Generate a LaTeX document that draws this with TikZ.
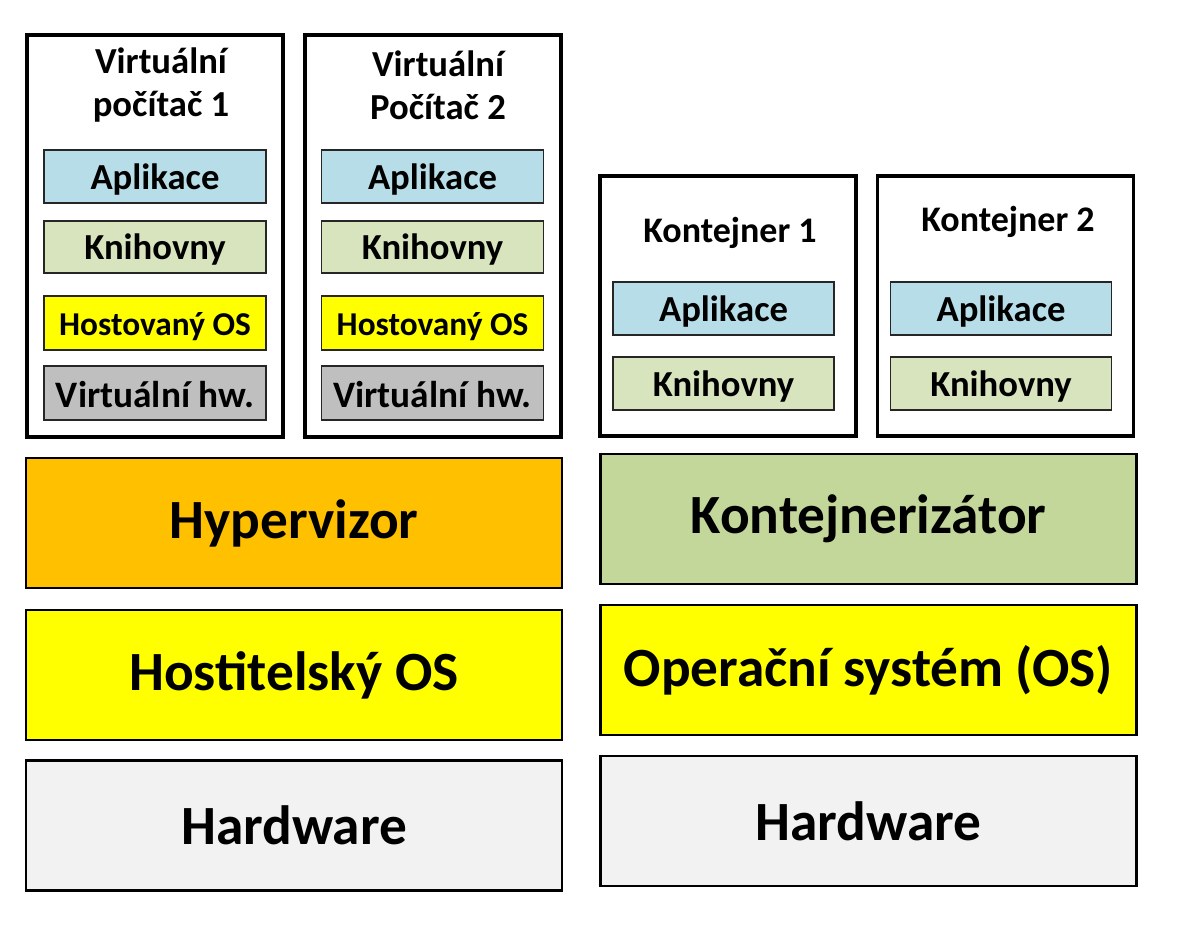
\documentclass[tikz,border=0pt]{standalone}
\usepackage{fontspec}
\setmainfont{Carlito}
\begin{document}
\begin{tikzpicture}[x=0.75pt,y=-0.75pt,
  box/.style={draw=black,line width=1.9pt,inner sep=0pt,font=\bfseries},
  outer/.style={draw=black,line width=2.5pt,fill=white,inner sep=0pt},
  inner/.style={draw=black!85,line width=1.3pt,inner sep=0pt,text height=24pt,text depth=5pt,font=\bfseries\fontsize{27.5}{30}\selectfont},
  title/.style={inner sep=0pt,align=center,font=\bfseries\fontsize{27.5}{32.5}\selectfont},
  big/.style={box,minimum width=402pt,minimum height=97.5pt,font=\bfseries\fontsize{41.5}{46}\selectfont}]
\fill[white] (0,0) rectangle (1194,929);
\useasboundingbox (0,0) rectangle (1194,929);
% virtual machines
\node[outer,minimum width=192pt,minimum height=301.5pt] (vm1) at (155,236) {};
\node[outer,minimum width=192pt,minimum height=301.5pt] (vm2) at (433,236) {};
\node[title] (vm1t) at (161,85) {Virtuální\\počítač 1};
\node[title] (vm2t) at (438,85) {Virtuální\\Počítač 2};
\foreach \n/\x in {1/155,2/432.5}{
  \node[inner,fill={rgb,255:red,183;green,221;blue,232},minimum width=166.5pt,minimum height=40pt] (app\n) at (\x,176.5) {Aplikace};
  \node[inner,fill={rgb,255:red,215;green,228;blue,189},minimum width=166.5pt,minimum height=39pt] (lib\n) at (\x,247) {Knihovny};
  \node[inner,fill={rgb,255:red,255;green,255;blue,0},minimum width=166.5pt,minimum height=40.5pt,font=\bfseries\fontsize{25}{28}\selectfont] (gos\n) at (\x,323) {Hostovaný OS};
  \node[inner,text height=26pt,fill={rgb,255:red,191;green,191;blue,191},minimum width=166.5pt,minimum height=40.5pt,font=\bfseries\fontsize{28}{30}\selectfont] (vhw\n) at (\x,393) {Virtuální hw.};
}
% containers
\node[outer,minimum width=192pt,minimum height=195pt] (c1) at (728,306) {};
\node[outer,minimum width=192pt,minimum height=195pt] (c2) at (1005.5,306) {};
\node[title,font=\bfseries\fontsize{27}{32}\selectfont] (c1t) at (730,233) {Kontejner 1};
\node[title,font=\bfseries\fontsize{27}{32}\selectfont] (c2t) at (1008,222) {Kontejner 2};
\foreach \n/\x in {1/723.5,2/1001}{
  \node[inner,fill={rgb,255:red,183;green,221;blue,232},minimum width=165.75pt,minimum height=39.75pt] (capp\n) at (\x,308.5) {Aplikace};
  \node[inner,fill={rgb,255:red,215;green,228;blue,189},minimum width=165.75pt,minimum height=39.75pt] (clib\n) at (\x,383.5) {Knihovny};
}
% layers left
\node[big,fill={rgb,255:red,255;green,192;blue,0}] (hyp) at (294,523) {Hypervizor};
\node[big,fill={rgb,255:red,255;green,255;blue,0}] (hos) at (294,675) {Hostitelský OS};
\node[big,fill={rgb,255:red,242;green,242;blue,242}] (hw1) at (294,825.5) {Hardware};
% layers right
\node[big,fill={rgb,255:red,196;green,215;blue,155}] (kont) at (868.5,519) {Kontejnerizátor};
\node[big,fill={rgb,255:red,255;green,255;blue,0}] (os) at (868.5,670) {Operační systém (OS)};
\node[big,fill={rgb,255:red,242;green,242;blue,242}] (hw2) at (868.5,821) {Hardware};
\end{tikzpicture}
\end{document}
